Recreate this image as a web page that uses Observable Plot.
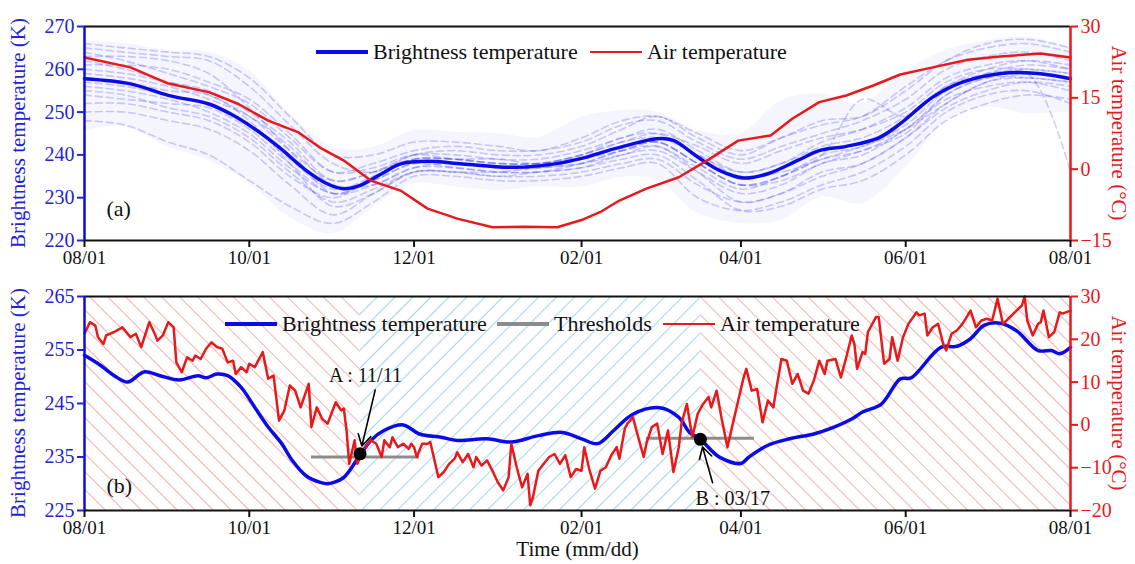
<!DOCTYPE html>
<html>
<head>
<meta charset="utf-8">
<script src="https://cdn.jsdelivr.net/npm/d3@7"></script>
<script src="https://cdn.jsdelivr.net/npm/@observablehq/plot@0.6"></script>
<style>
  html, body { margin: 0; padding: 0; background: #fff; }
  #chart { position: relative; width: 1135px; height: 564px; overflow: hidden; font-family: "Liberation Serif", "Times New Roman", serif; }
  #chart svg { position: absolute; left: 0; }
  .leg { position: absolute; display: flex; align-items: center; height: 30px; font-size: 22px; color: #111; white-space: nowrap; }
  .leg .sw { display: inline-block; width: 52px; margin-right: 5px; }
  .vt { position: absolute; white-space: nowrap; font-size: 21px; line-height: 1; }
</style>
</head>
<body>
<div id="chart"></div>
<script>
// ---------------- data (days counted from 08/01) ----------------
const tickDays   = [0, 61, 122, 184, 243, 304, 365];
const tickLabels = ["08/01", "10/01", "12/01", "02/01", "04/01", "06/01", "08/01"];

// panel (a): mean brightness temperature (K)
const tbMeanDays = [0,17,31,46,54,62,72,82,90,96,102,110,117,127,140,159,174,184,196,212,218,227,235,244,253,264,272,282,294,302,314,325,340,353,365];
const tbMeanVals = [257.8,256.6,253.9,251.9,249.6,246.5,241.8,236.4,233.2,232.1,232.9,235.6,237.9,238.5,237.9,237.1,237.9,239.2,241.4,243.8,243.4,239.5,236.4,234.6,235.6,238.7,241.0,242.0,244.0,247.3,253.5,257.0,259.1,259.0,257.8];

// panel (a): mean air temperature (°C)
const airMeanDays = [0,17,31,46,57,68,79,87,96,106,117,127,138,151,163,175,184,191,198,208,220,231,242,254,262,272,282,292,302,314,327,339,354,365];
const airMeanVals = [23.5,21.4,18.0,16.2,13.7,10.2,7.8,4.6,1.8,-2.4,-4.5,-8.3,-10.4,-12.2,-12.1,-12.2,-10.7,-9.0,-6.6,-4.1,-1.7,2.0,6.0,7.1,10.6,14.1,15.5,17.6,19.9,21.4,23.0,23.7,24.3,23.5];

// panel (a): individual brightness temperature curves (faint dashed)
const memberDays = [0,15,31,46,61,76,92,107,122,137,153,168,184,199,212,227,243,258,273,288,304,319,334,349,365];
const members = [
  [265,264,263,262,256,247,238,236,240,241,240,240,242,246,249,244,240,244,247,249,256,262,265,266,264],
  [248,247,243,240,234,228,224,229,235,235,234,234,235,237,238,230,227,229,233,236,242,250,254,255,252],
  [260,259,257,255,250,243,234,236,240,240,239,239,241,244,246,241,236,238,243,246,251,258,261,262,260],
  [255,254,251,249,244,236,229,232,236,236,235,236,237,240,241,236,231,233,238,240,246,253,256,257,255],
  [263,263,262,259,251,241,231,233,237,237,236,236,238,241,243,238,233,235,240,242,247,255,259,261,260],
  [258,257,255,254,248,238,228,231,236,236,236,237,238,240,242,236,229,231,235,238,244,252,257,259,258],
  [252,252,250,248,243,235,230,235,239,239,239,238,240,243,245,242,238,241,244,246,250,257,260,260,259],
  [261,261,260,257,253,245,236,237,240,239,238,238,240,243,244,240,235,236,239,242,246,252,257,258,257],
  [259,258,256,253,249,242,233,233,237,238,237,237,239,241,243,238,233,234,238,241,245,254,258,259,236],
  [264,262,259,256,252,244,236,238,241,242,241,241,243,247,248,243,239,242,245,248,253,260,263,264,262],
  [254,253,252,251,246,238,231,234,238,237,236,236,237,239,240,234,227,228,232,234,240,248,252,254,253],
  [257,256,254,252,247,239,232,235,239,239,238,238,239,242,243,238,233,235,240,253,249,256,259,260,259],
  [262,260,257,254,249,241,234,236,239,239,238,238,240,244,245,240,236,238,242,244,249,256,260,262,261],
  [250,250,248,246,241,233,226,231,236,236,235,235,236,238,239,233,229,231,236,238,244,251,255,257,256],
  [266,265,264,263,258,249,240,240,243,243,242,241,244,248,249,245,241,244,248,249,255,262,266,267,265],
  [256,255,253,250,245,237,231,234,238,238,237,237,238,241,242,237,232,235,239,241,246,254,258,258,257]
];
const bandLow  = [245.7,246.5,241.8,238.7,233.3,225.4,221.6,227.8,233.2,232.5,231.7,232.5,232.5,234.8,234,226.3,224,224.7,230.1,228.6,237.1,248,251.1,249.6,250];
const bandHigh = [266.7,266,264.4,264,259.7,249.6,241.8,241.8,245.7,245.3,245,244.1,248.8,250.4,250,245.7,245,252.7,254.3,252,259.7,264.4,266.7,267.5,265.2];

// panel (b): brightness temperature (K)
const tbDays = [0,6,11,16,22,28,35,42,45,49,53,58,63,68,73,77,82,87,90,92,96,101,106,111,118,124,132,138,149,158,168,177,184,190,196,203,213,220,224,228,235,243,246,253,261,270,275,284,288,295,302,306,317,323,328,333,339,345,353,358,361,365];
const tbVals = [254.0,252.1,250.2,249.0,250.9,250.2,249.4,250.2,249.8,250.5,250.2,248.0,244.3,240.6,237.5,234.3,231.5,230.3,230.0,230.2,231.2,234.6,238.1,240.0,241.0,239.3,238.7,238.1,238.4,237.8,239.0,239.6,238.4,237.5,240.0,243.0,244.2,242.4,239.6,238.3,235.0,233.8,235.0,237.2,238.4,239.3,240.1,242.1,243.4,244.9,249.6,249.8,255.5,255.7,257.1,259.6,260.0,258.6,254.9,254.9,254.3,255.5];

// panel (b): daily air temperature (°C)
const airDays = [
  0,2,4,5,7,8,11,14,17,19,
  21,24,26,27,29,31,33,34,36,38,
  40,41,43,45,47,49,51,53,55,56,
  58,60,61,63,66,68,70,72,74,76,
  78,80,83,84,86,88,90,93,95,96,
  97,98,100,101,103,106,108,110,111,113,
  114,116,118,120,121,122,123,125,127,128,
  131,133,135,137,138,140,142,144,145,147,
  149,151,153,155,157,158,160,162,164,165,
  166,168,170,172,174,176,178,180,182,184,
  185,187,189,191,193,195,197,198,200,201,
  203,205,207,208,210,212,214,216,218,220,
  221,223,225,227,229,231,232,234,236,238,
  240,242,244,245,247,249,251,253,255,256,
  258,260,262,264,266,268,270,272,274,275,
  278,280,282,284,285,286,288,289,290,293,
  294,296,298,299,301,303,305,308,309,311,
  312,314,316,318,319,321,323,325,328,330,
  332,334,336,338,340,342,345,347,348,349,
  351,353,354,355,357,359,361,362,365];
const airVals = [
  21.3,24.0,23.2,20.5,18.9,20.9,21.7,22.8,20.5,21.3,
  18.2,24.0,21.3,19.7,20.9,24.0,22.8,14.6,12.3,15.8,
  15.0,16.2,15.4,17.8,19.3,18.2,17.8,14.6,15.0,11.9,
  13.5,12.3,14.3,13.5,17.0,10.8,11.5,1.0,3.4,9.2,
  8.0,4.1,9.6,-0.5,4.1,1.4,0.3,5.3,3.4,3.8,
  -1.3,-9.1,-3.6,-9.1,-6.0,-3.6,-4.4,-7.5,-3.6,-5.2,
  -2.9,-5.2,-4.4,-5.6,-4.4,-5.2,-7.5,-4.4,-4.4,-4.0,
  -12.2,-11.0,-9.1,-7.9,-6.4,-8.7,-6.8,-9.9,-7.5,-9.5,
  -8.3,-10.7,-13.4,-15.3,-12.2,-4.4,-9.9,-14.6,-11.4,-18.8,
  -16.9,-10.7,-9.1,-7.5,-6.8,-9.1,-7.1,-12.2,-10.3,-10.7,
  -5.2,-10.7,-14.9,-10.7,-9.9,-7.1,-5.2,-7.9,-0.9,0.3,
  1.8,-2.9,-7.5,-4.4,-0.5,0.3,-6.8,-1.3,-11.0,-5.2,
  0.3,4.9,-2.9,2.6,4.9,6.5,4.1,8.0,1.0,-5.2,
  0.3,5.7,11.1,13.1,8.0,8.4,0.6,5.7,4.1,8.0,
  15.4,15.0,9.6,11.9,8.0,7.3,10.4,15.0,11.9,15.0,
  15.4,11.1,15.8,20.9,18.9,13.1,17.0,16.6,21.7,25.2,
  25.2,14.3,15.4,20.5,15.0,20.5,23.6,26.3,25.6,26.0,
  20.9,22.8,23.6,18.6,17.4,21.3,22.1,23.6,26.7,22.8,
  24.4,24.8,24.4,29.5,23.6,24.8,26.7,27.9,30.0,24.4,
  20.9,23.6,24.0,26.7,20.5,21.7,26.3,26.0,26.7];

// panel (b): frozen / thawed periods, thresholds, transition points
const periodStart = [0, 102, 228];
const periodEnd   = [102, 228, 365];
const periodKind  = ["thawed", "frozen", "thawed"];
const thrStart = [84, 208];
const thrEnd   = [124, 248];
const thrValue = [235, 238.5];
const ptLabel = ["A : 11/11", "B : 03/17"];
const ptDay   = [102, 228];
const ptValue = [235.6, 238.3];
const ptTextDay   = [104, 240];
const ptTextValue = [250.2, 227.2];
const ptTailDay   = [107.6, 232.5];
const ptTailValue = [247.5, 230.2];

// axis ticks and titles
const leftTicksA  = [220, 230, 240, 250, 260, 270];
const rightTicksA = [-15, 0, 15, 30];
const leftTicksB  = [225, 235, 245, 255, 265];
const rightTicksB = [-20, -10, 0, 10, 20, 30];
const leftTitle = "Brightness temperature (K)";
const rightTitle = "Air temperature (\u00b0C)";

// ---------------- helpers ----------------
const START = Date.UTC(2014, 7, 1);
const day = d => new Date(START + d * 864e5);
const BLUE = "#0b0be8", BLUE_TXT = "#2323d8", RED = "#e8191b", GRAY = "#8c8c8c";
const FONT = "Liberation Serif, Times New Roman, serif";
const fmtNum = v => { const r = Math.round(v); return r < 0 ? "\u2212" + Math.abs(r) : String(r); };
const tickMap = new Map(tickDays.map((d, i) => [+day(d), tickLabels[i]]));
const xTickFormat = d => tickMap.get(+d) ?? "";

// dual-axis mapping °C -> K for each panel
const toKA = t => 220 + (t + 15) * 50 / 45, toCA = k => (k - 220) * 45 / 50 - 15;
const toKB = t => 225 + (t + 20) * 40 / 50, toCB = k => (k - 225) * 50 / 40 - 20;

const meanA = tbMeanDays.map((d, i) => ({date: day(d), v: tbMeanVals[i]}));
const airA  = airMeanDays.map((d, i) => ({date: day(d), v: toKA(airMeanVals[i])}));
const memA  = members.flatMap((vals, k) => vals.map((v, i) => ({k, date: day(memberDays[i]), v})));
const bandA = memberDays.map((d, i) => ({date: day(d), lo: bandLow[i], hi: bandHigh[i]}));
const tbB   = tbDays.map((d, i) => ({date: day(d), v: tbVals[i]}));
const airB  = airDays.map((d, i) => ({date: day(d), v: toKB(airVals[i])}));
const periods = periodStart.map((s, i) => ({s: day(s), e: day(periodEnd[i]), kind: periodKind[i]}));
const thr = thrStart.map((s, i) => ({s: day(s), e: day(thrEnd[i]), v: thrValue[i]}));
const pts = ptLabel.map((l, i) => ({label: l, date: day(ptDay[i]), v: ptValue[i],
  tdate: day(ptTextDay[i]), tv: ptTextValue[i], adate: day(ptTailDay[i]), av: ptTailValue[i]}));

const xTicks = tickDays.map(day);
const common = {
  width: 1135, marginLeft: 84, marginRight: 65,
  x: {type: "utc", domain: [day(0), day(365)]},
  style: {fontFamily: FONT, fontSize: "20px", background: "transparent", overflow: "visible"}
};
function frameMarks(yTop, yBot) {
  return [
    Plot.ruleY([yTop], {stroke: "#111", strokeWidth: 2}),
    Plot.ruleY([yBot], {stroke: "#111", strokeWidth: 2}),
    Plot.ruleX([day(0)], {stroke: BLUE, strokeWidth: 2.5}),
    Plot.ruleX([day(365)], {stroke: RED, strokeWidth: 2.5})
  ];
}
function axes(leftTicks, rightTicks, toK, toC) {
  return [
    Plot.axisY({ticks: leftTicks, tickSize: 7, tickPadding: 3, color: BLUE_TXT, fontSize: 20, label: null, tickFormat: fmtNum, strokeWidth: 2}),
    Plot.axisY({anchor: "right", ticks: rightTicks.map(toK), tickSize: 7, tickPadding: 3, color: RED, fontSize: 20, label: null, tickFormat: v => fmtNum(toC(v)), strokeWidth: 2}),
    Plot.axisX({ticks: xTicks, tickFormat: xTickFormat, tickSize: 7, tickPadding: 3, color: "#111", fontSize: 19, label: null, strokeWidth: 2})
  ];
}

// ---------------- panel (a) ----------------
const plotA = Plot.plot({
  ...common, height: 270, marginTop: 26, marginBottom: 30,
  y: {domain: [220, 270]},
  marks: [
    Plot.areaY(bandA, {x: "date", y1: "lo", y2: "hi", fill: BLUE, fillOpacity: 0.04, curve: "catmull-rom"}),
    Plot.line(memA, {x: "date", y: "v", z: "k", stroke: BLUE, strokeOpacity: 0.2, strokeWidth: 1.6, strokeDasharray: "7,4", curve: "catmull-rom"}),
    Plot.line(meanA, {x: "date", y: "v", stroke: BLUE, strokeWidth: 3.5, curve: "catmull-rom"}),
    Plot.line(airA, {x: "date", y: "v", stroke: RED, strokeWidth: 2.5}),
    ...frameMarks(270, 220),
    ...axes(leftTicksA, rightTicksA, toKA, toCA),
    Plot.text(["(a)"], {frameAnchor: "bottom-left", dx: 22, dy: -25, textAnchor: "start", fontSize: 22, fill: "#111"})
  ]
});

// ---------------- panel (b) ----------------
const plotB = Plot.plot({
  ...common, height: 294, marginTop: 26, marginBottom: 54,
  y: {domain: [225, 265]},
  marks: [
    Plot.rect(periods, {x1: "s", x2: "e", fill: d => d.kind === "frozen" ? "url(#hatchB)" : "url(#hatchR)"}),
    Plot.ruleY(thr, {x1: "s", x2: "e", y: "v", stroke: GRAY, strokeWidth: 3}),
    Plot.line(tbB, {x: "date", y: "v", stroke: BLUE, strokeWidth: 3.5, curve: "catmull-rom"}),
    Plot.line(airB, {x: "date", y: "v", stroke: RED, strokeWidth: 2.5}),
    Plot.dot(pts, {x: "date", y: "v", r: 6.5, fill: "#000"}),
    Plot.arrow(pts, {x1: "adate", y1: "av", x2: "date", y2: "v", insetEnd: 8, headLength: 12, stroke: "#000", strokeWidth: 1.6}),
    Plot.text(pts, {x: "tdate", y: "tv", text: "label", fontSize: 20, fill: "#111"}),
    ...frameMarks(265, 225),
    ...axes(leftTicksB, rightTicksB, toKB, toCB),
    Plot.text(["(b)"], {frameAnchor: "bottom-left", dx: 22, dy: -18, textAnchor: "start", fontSize: 22, fill: "#111"}),
    Plot.text(["Time (mm/dd)"], {frameAnchor: "bottom", dy: 45, fontSize: 21, fill: "#111"})
  ]
});
// hatch patterns
const defs = document.createElementNS("http://www.w3.org/2000/svg", "defs");
defs.innerHTML =
  '<pattern id="hatchR" patternUnits="userSpaceOnUse" width="12.7" height="12.7" patternTransform="rotate(-45)">' +
  '<line x1="6.35" y1="0" x2="6.35" y2="12.7" stroke="#f2b4b4" stroke-width="1.1"/></pattern>' +
  '<pattern id="hatchB" patternUnits="userSpaceOnUse" width="12.7" height="12.7" patternTransform="rotate(45)">' +
  '<line x1="6.35" y1="0" x2="6.35" y2="12.7" stroke="#a5d6ec" stroke-width="1.1"/></pattern>';
plotB.insertBefore(defs, plotB.firstChild);

const chart = document.getElementById("chart");
plotA.style.top = "0px";
plotB.style.top = "270px";
chart.appendChild(plotA);
chart.appendChild(plotB);

// rotated axis titles (centered on each panel's frame)
const titles = [
  {x: 18, y: 133, rot: -90, color: BLUE_TXT, text: leftTitle},
  {x: 1118, y: 133, rot: 90, color: RED, text: rightTitle},
  {x: 18, y: 403, rot: -90, color: BLUE_TXT, text: leftTitle},
  {x: 1118, y: 403, rot: 90, color: RED, text: rightTitle}
];
for (const t of titles) {
  const el = document.createElement("div");
  el.className = "vt";
  el.style.left = t.x + "px";
  el.style.top = t.y + "px";
  el.style.color = t.color;
  el.style.transform = `translate(-50%, -50%) rotate(${t.rot}deg)`;
  el.textContent = t.text;
  chart.appendChild(el);
}

// legends (HTML, placed inside the plot frames)
const legendItems = [
  {x: 316, y: 52, color: BLUE, w: 3.5, label: "Brightness temperature"},
  {x: 590, y: 52, color: RED, w: 2.5, label: "Air temperature"},
  {x: 225, y: 324, color: BLUE, w: 3.5, label: "Brightness temperature"},
  {x: 497, y: 324, color: GRAY, w: 3.5, label: "Thresholds"},
  {x: 663, y: 324, color: RED, w: 2.5, label: "Air temperature"}
];
for (const it of legendItems) {
  const el = document.createElement("div");
  el.className = "leg";
  el.style.left = it.x + "px";
  el.style.top = (it.y - 15) + "px";
  el.innerHTML = `<span class="sw" style="height:${it.w}px;background:${it.color}"></span><span>${it.label}</span>`;
  chart.appendChild(el);
}
</script>
</body>
</html>
